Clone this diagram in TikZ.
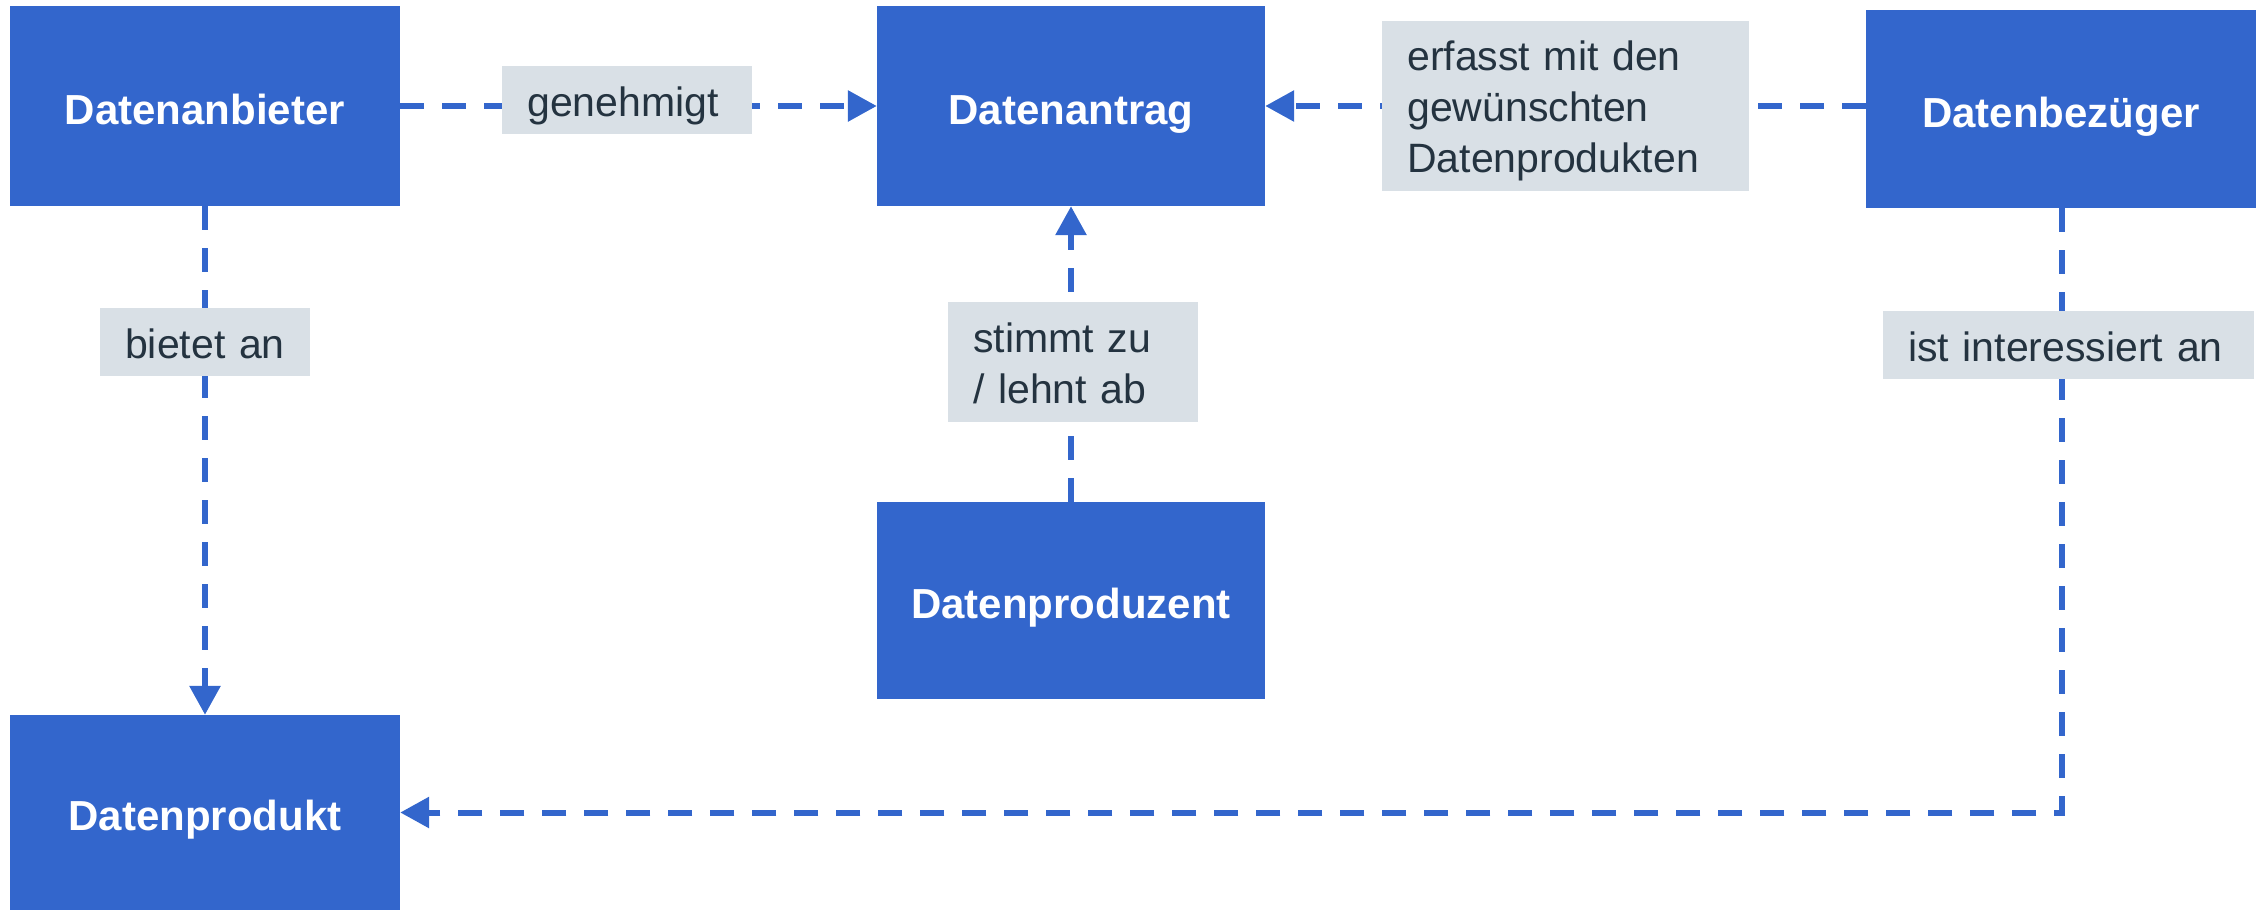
\documentclass[tikz,border=0pt]{standalone}
\usepackage{fontspec}
\setmainfont{Liberation Sans}
\usetikzlibrary{arrows.meta}
\definecolor{boxblue}{HTML}{3366CC}
\definecolor{lblgrey}{HTML}{D9E0E6}
\definecolor{lbltext}{HTML}{243340}
\newcommand{\lt}[1]{\rule{0pt}{50pt}#1\rule[-18pt]{0pt}{18pt}}
\tikzset{
  blubox/.style={fill=boxblue, text=white, inner sep=0pt,
    font=\fontsize{42}{50}\selectfont\bfseries,
    text height=36pt, text depth=0pt},
  lbl/.style={fill=lblgrey, text=lbltext, inner xsep=25pt, inner ysep=0pt,
    align=left, font=\fontsize{41}{51}\selectfont, anchor=north west},
  conn/.style={draw=boxblue, line width=6pt, dash pattern=on 24pt off 18pt},
  tip/.style={-{Triangle[length=29pt,width=30pt]}}
}
\begin{document}
\begin{tikzpicture}[x=1pt,y=-1pt]
\useasboundingbox (0,0) rectangle (2260,910);
% boxes
\node[blubox, minimum width=390pt, minimum height=200pt] (A) at (205,106) {Datenanbieter};
\node[blubox, minimum width=388pt, minimum height=200pt] (R) at (1071,106) {Datenantrag};
\node[blubox, minimum width=390pt, minimum height=198pt] (B) at (2061,109) {Datenbezüger};
\node[blubox, minimum width=388pt, minimum height=197pt] (P) at (1071,600.5) {Datenproduzent};
\node[blubox, minimum width=390pt, minimum height=195pt] (D) at (205,812.5) {Datenprodukt};
% connectors
\draw[conn, tip] (A.east) -- (R.west);
\draw[conn, tip] (B.west |- R.east) -- (R.east);
\draw[conn, tip] (P.north) -- (R.south);
\draw[conn, tip] (A.south) -- (D.north);
\draw[conn, tip] ([xshift=1pt]B.south) |- (D.east);
% labels
\node[lbl, text width=200pt] (l1) at (502,66) {\lt{genehmigt}};
\node[lbl, text width=317pt] (l2) at (1382,21) {\rule{0pt}{49pt}erfasst mit den\\gewünschten\\Datenprodukten\rule[-19pt]{0pt}{19pt}};
\node[lbl, text width=200pt] (l3) at (948,302) {\rule{0pt}{50pt}stimmt zu\\/ lehnt ab\rule[-19pt]{0pt}{19pt}};
\node[lbl, text width=160pt] (l4) at (100,308) {\lt{bietet an}};
\node[lbl, text width=321pt] (l5) at (1883,311) {\lt{ist interessiert an}};
\end{tikzpicture}
\end{document}
